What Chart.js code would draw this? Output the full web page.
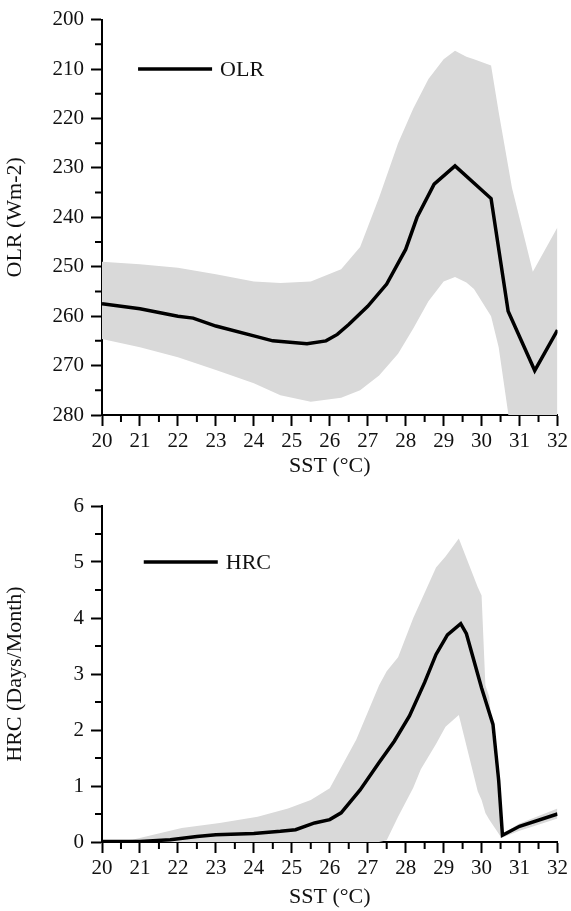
<!DOCTYPE html>
<html>
<head>
<meta charset="utf-8">
<script src="https://cdn.jsdelivr.net/npm/chart.js@4"></script>
<style>
  body { margin: 0; background: #fff; }
  #wrap { position: relative; width: 571px; height: 911px; }
  #olrChart { position: absolute; left: 0; top: 0; }
  #hrcChart { position: absolute; left: 0; top: 480px; }
</style>
</head>
<body>
<div id="wrap">
  <canvas id="olrChart" width="571" height="480"></canvas>
  <canvas id="hrcChart" width="571" height="431"></canvas>
</div>
<script>
// OLR panel
const olrSst = [20, 21, 22, 22.4, 23, 24, 24.5, 25.4, 25.9, 26.2, 26.5, 27, 27.5, 28, 28.3, 28.75, 29.3, 30.25, 30.7, 31.4, 32];
const olrMean = [257.5, 258.5, 260, 260.4, 262, 264, 265, 265.6, 265, 263.7, 261.7, 258, 253.5, 246.5, 240, 233.3, 229.6, 236.2, 259, 271, 262.8];
const olrBandSst = [20, 21, 22, 23, 24, 24.7, 25.5, 26.3, 26.8, 27.3, 27.8, 28.2, 28.6, 29, 29.3, 29.6, 29.8, 30.25, 30.45, 30.7, 30.8, 31.15, 31.35, 32];
const olrBandLow = [249, 249.5, 250.2, 251.5, 253, 253.3, 253, 250.5, 246, 236, 225, 218, 212, 208, 206.3, 207.5, 208, 209.3, 218.7, 229.6, 234, 244.8, 251, 242];
const olrBandHigh = [264.6, 266.3, 268.3, 270.9, 273.6, 276, 277.3, 276.5, 275, 272, 267.6, 262.5, 257, 253, 252.1, 253.2, 254.5, 260, 266.3, 279.6, 290, 290, 290, 290];
const olrTicks = [200, 210, 220, 230, 240, 250, 260, 270, 280];

// HRC panel
const hrcSst = [20, 21, 21.8, 22.5, 23, 24, 24.7, 25.1, 25.6, 26, 26.3, 26.8, 27.3, 27.7, 28.1, 28.5, 28.8, 29.1, 29.45, 29.6, 30, 30.3, 30.45, 30.55, 31, 32];
const hrcMean = [0.01, 0.01, 0.04, 0.1, 0.13, 0.15, 0.19, 0.22, 0.34, 0.4, 0.52, 0.93, 1.42, 1.8, 2.25, 2.85, 3.35, 3.7, 3.9, 3.72, 2.75, 2.1, 1.1, 0.12, 0.28, 0.5];
const hrcBandSst = [20, 20.8, 22.1, 23.1, 24.1, 24.9, 25.5, 26, 26.7, 27.3, 27.5, 27.8, 28.2, 28.4, 28.8, 29.05, 29.4, 29.9, 30, 30.1, 30.2, 30.35, 30.5, 30.55, 31, 32];
const hrcBandHigh = [0, 0.04, 0.25, 0.34, 0.45, 0.6, 0.75, 0.96, 1.83, 2.8, 3.05, 3.3, 4.0, 4.3, 4.9, 5.1, 5.42, 4.55, 4.4, 2.8, 2.6, 1.45, 0.5, 0.15, 0.33, 0.6];
const hrcBandLow = [0, 0, 0, 0, 0, 0, 0, 0, 0, 0, 0.03, 0.45, 0.97, 1.3, 1.75, 2.06, 2.27, 0.9, 0.75, 0.52, 0.4, 0.25, 0.1, 0.08, 0.2, 0.42];
const hrcTicks = [0, 1, 2, 3, 4, 5, 6];

const sstTicks = [20, 21, 22, 23, 24, 25, 26, 27, 28, 29, 30, 31, 32];

const serif = '"Liberation Serif", "Times New Roman", serif';
const bandGrey = '#d9d9d9';

function pts(xs, ys) {
  return xs.map((x, i) => ({ x: x, y: ys[i] }));
}

// minor ticks halfway between the labelled ones
const minorTicks = {
  id: 'minorTicks',
  afterDraw(chart, args, opts) {
    const { ctx, chartArea } = chart;
    const xs = chart.scales.x, ys = chart.scales.y;
    ctx.save();
    ctx.strokeStyle = '#000';
    ctx.lineWidth = 2;
    ctx.beginPath();
    for (let i = 0; i < sstTicks.length - 1; i++) {
      const px = xs.getPixelForValue((sstTicks[i] + sstTicks[i + 1]) / 2);
      ctx.moveTo(px, chartArea.bottom);
      ctx.lineTo(px, chartArea.bottom + 7);
    }
    const yt = opts.yTicks;
    for (let i = 0; i < yt.length - 1; i++) {
      const py = ys.getPixelForValue((yt[i] + yt[i + 1]) / 2);
      ctx.moveTo(chartArea.left - 7, py);
      ctx.lineTo(chartArea.left, py);
    }
    ctx.stroke();
    ctx.restore();
  }
};

// legend drawn inside the plot
const inlineLegend = {
  id: 'inlineLegend',
  afterDatasetsDraw(chart, args, opts) {
    const ds = chart.data.datasets[0];
    const { ctx } = chart;
    const x0 = chart.scales.x.getPixelForValue(opts.from);
    const x1 = chart.scales.x.getPixelForValue(opts.to);
    const py = chart.scales.y.getPixelForValue(opts.at);
    ctx.save();
    ctx.strokeStyle = ds.borderColor;
    ctx.lineWidth = ds.borderWidth;
    ctx.beginPath();
    ctx.moveTo(x0, py);
    ctx.lineTo(x1, py);
    ctx.stroke();
    ctx.fillStyle = '#111';
    ctx.font = '22px ' + serif;
    ctx.textBaseline = 'middle';
    ctx.fillText(ds.label, x1 + 8, py + 1);
    ctx.restore();
  }
};

function makeChart(id, cfg) {
  return new Chart(document.getElementById(id).getContext('2d'), {
    type: 'line',
    data: {
      datasets: [
        {
          label: cfg.label,
          data: pts(cfg.lineX, cfg.lineY),
          borderColor: '#000',
          borderWidth: 3.5,
          pointRadius: 0,
          tension: 0,
          fill: false
        },
        {
          label: 'band-top',
          data: pts(cfg.bandX, cfg.bandA),
          borderWidth: 0,
          pointRadius: 0,
          fill: false
        },
        {
          label: 'band-bottom',
          data: pts(cfg.bandX, cfg.bandB),
          borderWidth: 0,
          pointRadius: 0,
          backgroundColor: bandGrey,
          fill: '-1'
        }
      ]
    },
    options: {
      responsive: false,
      animation: false,
      layout: { padding: { top: cfg.padTop, right: 12, left: 0, bottom: 0 } },
      plugins: {
        legend: { display: false },
        tooltip: { enabled: false },
        minorTicks: { yTicks: cfg.yTicks },
        inlineLegend: cfg.legend
      },
      scales: {
        x: {
          type: 'linear',
          min: 20,
          max: 32,
          border: { color: '#000', width: 2 },
          grid: { drawOnChartArea: false, tickLength: 11, tickWidth: 2, tickColor: '#000' },
          ticks: { stepSize: 1, color: '#111', font: { family: serif, size: 21 }, padding: 3, maxRotation: 0, autoSkip: false },
          title: { display: true, text: 'SST (°C)', color: '#111', font: { family: serif, size: 22 }, padding: { top: 0, bottom: 1 } },
          afterFit: (s) => { s.height = cfg.xHeight; }
        },
        y: {
          min: cfg.yMin,
          max: cfg.yMax,
          reverse: cfg.reverse,
          border: { color: '#000', width: 2 },
          grid: { drawOnChartArea: false, tickLength: 11, tickWidth: 2, tickColor: '#000' },
          ticks: { stepSize: cfg.yStep, color: '#111', font: { family: serif, size: 21 }, padding: 7 },
          title: { display: true, text: cfg.yTitle, color: '#111', font: { family: serif, size: 22 }, padding: { top: 2, bottom: 0 } },
          afterFit: (s) => { s.width = 102; }
        }
      }
    },
    plugins: [minorTicks, inlineLegend]
  });
}

makeChart('olrChart', {
  label: 'OLR',
  bandX: olrBandSst, bandA: olrBandLow, bandB: olrBandHigh,
  lineX: olrSst, lineY: olrMean,
  yMin: 200, yMax: 280, yStep: 10, reverse: true, yTicks: olrTicks,
  yTitle: 'OLR (Wm-2)',
  padTop: 15, xHeight: 65,
  legend: { from: 20.95, to: 22.9, at: 210 }
});

makeChart('hrcChart', {
  label: 'HRC',
  bandX: hrcBandSst, bandA: hrcBandHigh, bandB: hrcBandLow,
  lineX: hrcSst, lineY: hrcMean,
  yMin: 0, yMax: 6, yStep: 1, reverse: false, yTicks: hrcTicks,
  yTitle: 'HRC (Days/Month)',
  padTop: 26, xHeight: 69,
  legend: { from: 21.1, to: 23.05, at: 5 }
});
</script>
</body>
</html>
